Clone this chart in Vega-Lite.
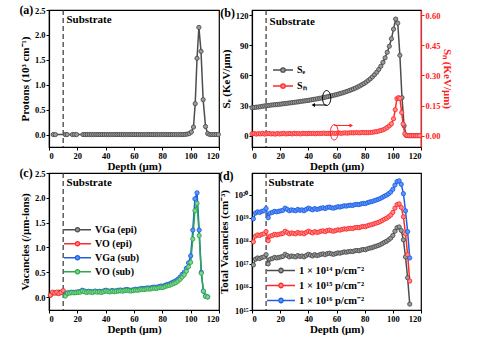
{
"$schema": "https://vega.github.io/schema/vega-lite/v6.json",
"background": "white",
"padding": {"left": 18, "top": 3, "right": 2, "bottom": 2},
"columns": 2,
"spacing": {"row": -10, "column": -5},
"resolve": {"scale": {"fill": "independent", "stroke": "independent"}},
"config": {
 "font": "Liberation Serif",
 "view": {"stroke": "black", "strokeWidth": 1.2},
 "axis": {"grid": false, "labelOverlap": false, "labelFont": "Liberation Serif", "labelFontWeight": "bold", "labelFontSize": 8.5, "labelColor": "black", "titleFont": "Liberation Serif", "titleFontWeight": "bold", "titleFontSize": 11, "titleColor": "black", "domainColor": "black", "tickColor": "black", "tickSize": 3, "labelPadding": 1, "titlePadding": 4, "domainWidth": 1.2},
 "axisX": {"titlePadding": 1},
 "title": {"font": "Liberation Serif", "fontSize": 12, "fontWeight": "bold", "color": "black", "anchor": "start", "frame": "bounds", "offset": -11},
 "legend": {"labelFont": "Liberation Serif", "labelFontWeight": "bold", "labelFontSize": 10, "labelColor": "black", "symbolStrokeWidth": 1.3, "labelOffset": 3, "rowPadding": 2, "clipHeight": 12}
},
"datasets": {
 "boundary": [{"x": 10}],
 "txtA": [{"x": 12.3, "y": 2.3}],
 "txtB": [{"x": 12.5, "y": 113}],
 "txtC": [{"x": 12.4, "y": 2.3}],
 "txtD": [{"x": 11.8, "y": 3.3e20}],
 "ellK": [{"x": 53, "y": 37.6}],
 "arrK": [{"x": 44, "x2": 53, "y": 30.7}],
 "headK": [{"x": 43.5, "y": 30.7}],
 "ellR": [{"x": 58.4, "y": 0.018}],
 "arrR": [{"x": 58.4, "x2": 70, "y": 0.052}],
 "headR": [{"x": 70.5, "y": 0.052}],
 "a": [
  {"x":3,"y":0},{"x":4.5,"y":0},{"x":11.5,"y":0},{"x":12.8,"y":0},{"x":16.5,"y":0},{"x":18,"y":0},{"x":19.5,"y":0},
  {"x":24,"y":0},{"x":25.5,"y":0},{"x":27,"y":0},{"x":28.5,"y":0},{"x":30,"y":0},{"x":31.5,"y":0},{"x":33,"y":0},{"x":34.5,"y":0},{"x":36,"y":0},{"x":37.5,"y":0},{"x":39,"y":0},{"x":40.5,"y":0},{"x":42,"y":0},{"x":43.5,"y":0},{"x":45,"y":0},{"x":46.5,"y":0},{"x":48,"y":0},{"x":49.5,"y":0},{"x":51,"y":0},{"x":52.5,"y":0},{"x":54,"y":0},{"x":55.5,"y":0},{"x":57,"y":0},{"x":58.5,"y":0},{"x":60,"y":0},{"x":61.5,"y":0},{"x":63,"y":0},{"x":64.5,"y":0},{"x":66,"y":0},{"x":67.5,"y":0},{"x":69,"y":0},{"x":70.5,"y":0},{"x":72,"y":0},{"x":73.5,"y":0},{"x":75,"y":0},{"x":76.5,"y":0},{"x":78,"y":0},{"x":79.5,"y":0},{"x":81,"y":0},{"x":82.5,"y":0},{"x":84,"y":0},{"x":85.5,"y":0},{"x":87,"y":0},{"x":88.5,"y":0},{"x":90,"y":0},{"x":91.5,"y":0},{"x":93,"y":0},{"x":94.5,"y":0},
  {"x":96,"y":0.003},{"x":97.5,"y":0.008},{"x":99,"y":0.02},{"x":100.5,"y":0.05},{"x":102,"y":0.15},{"x":103.2,"y":0.62},{"x":104.5,"y":1.53},{"x":105.8,"y":2.15},{"x":107.3,"y":1.67},{"x":108.8,"y":0.7},{"x":110.5,"y":0.16},{"x":112,"y":0.02},{"x":113.5,"y":0},{"x":115,"y":0},{"x":116.5,"y":0},{"x":118,"y":0},{"x":119.5,"y":0}
 ],
 "b": [
  {"x":0,"v":28.0,"s":"Sₑ"},{"x":1.5,"v":28.2,"s":"Sₑ"},{"x":3,"v":28.5,"s":"Sₑ"},{"x":4.5,"v":28.7,"s":"Sₑ"},{"x":6,"v":29.0,"s":"Sₑ"},{"x":7.5,"v":29.4,"s":"Sₑ"},{"x":9,"v":29.8,"s":"Sₑ"},{"x":10.5,"v":30.1,"s":"Sₑ"},{"x":12,"v":30.3,"s":"Sₑ"},{"x":13.5,"v":30.6,"s":"Sₑ"},{"x":15,"v":30.8,"s":"Sₑ"},{"x":16.5,"v":31.0,"s":"Sₑ"},{"x":18,"v":31.2,"s":"Sₑ"},{"x":19.5,"v":31.4,"s":"Sₑ"},{"x":21,"v":31.7,"s":"Sₑ"},{"x":22.5,"v":32.0,"s":"Sₑ"},{"x":24,"v":32.2,"s":"Sₑ"},{"x":25.5,"v":32.5,"s":"Sₑ"},{"x":27,"v":32.8,"s":"Sₑ"},{"x":28.5,"v":33.0,"s":"Sₑ"},{"x":30,"v":33.3,"s":"Sₑ"},{"x":31.5,"v":33.6,"s":"Sₑ"},{"x":33,"v":33.9,"s":"Sₑ"},{"x":34.5,"v":34.2,"s":"Sₑ"},{"x":36,"v":34.5,"s":"Sₑ"},{"x":37.5,"v":34.8,"s":"Sₑ"},{"x":39,"v":35.1,"s":"Sₑ"},{"x":40.5,"v":35.4,"s":"Sₑ"},{"x":42,"v":35.8,"s":"Sₑ"},{"x":43.5,"v":36.2,"s":"Sₑ"},{"x":45,"v":36.5,"s":"Sₑ"},{"x":46.5,"v":36.9,"s":"Sₑ"},{"x":48,"v":37.3,"s":"Sₑ"},{"x":49.5,"v":37.7,"s":"Sₑ"},{"x":51,"v":38.1,"s":"Sₑ"},{"x":52.5,"v":38.6,"s":"Sₑ"},{"x":54,"v":39.0,"s":"Sₑ"},{"x":55.5,"v":39.5,"s":"Sₑ"},{"x":57,"v":40.0,"s":"Sₑ"},{"x":58.5,"v":40.5,"s":"Sₑ"},{"x":60,"v":41.0,"s":"Sₑ"},{"x":61.5,"v":41.6,"s":"Sₑ"},{"x":63,"v":42.2,"s":"Sₑ"},{"x":64.5,"v":42.8,"s":"Sₑ"},{"x":66,"v":43.5,"s":"Sₑ"},{"x":67.5,"v":44.2,"s":"Sₑ"},{"x":69,"v":45.0,"s":"Sₑ"},{"x":70.5,"v":45.8,"s":"Sₑ"},{"x":72,"v":46.6,"s":"Sₑ"},{"x":73.5,"v":47.5,"s":"Sₑ"},{"x":75,"v":48.5,"s":"Sₑ"},{"x":76.5,"v":49.6,"s":"Sₑ"},{"x":78,"v":50.8,"s":"Sₑ"},{"x":79.5,"v":52.0,"s":"Sₑ"},{"x":81,"v":53.4,"s":"Sₑ"},{"x":82.5,"v":55.0,"s":"Sₑ"},{"x":84,"v":56.7,"s":"Sₑ"},{"x":85.5,"v":58.6,"s":"Sₑ"},{"x":87,"v":60.8,"s":"Sₑ"},{"x":88.5,"v":63.2,"s":"Sₑ"},{"x":90,"v":66.0,"s":"Sₑ"},{"x":91.5,"v":69.2,"s":"Sₑ"},{"x":93,"v":73.0,"s":"Sₑ"},{"x":94.5,"v":77.5,"s":"Sₑ"},{"x":96,"v":83.0,"s":"Sₑ"},{"x":97.5,"v":89.0,"s":"Sₑ"},{"x":99,"v":96.5,"s":"Sₑ"},{"x":100.5,"v":106,"s":"Sₑ"},{"x":102,"v":116,"s":"Sₑ"},{"x":103.5,"v":112,"s":"Sₑ"},{"x":105,"v":80,"s":"Sₑ"},{"x":106.5,"v":38,"s":"Sₑ"},{"x":108,"v":10,"s":"Sₑ"},{"x":109.5,"v":0.5,"s":"Sₑ"},{"x":111,"v":0.3,"s":"Sₑ"},{"x":112.5,"v":0.3,"s":"Sₑ"},{"x":114,"v":0.3,"s":"Sₑ"},{"x":115.5,"v":0.3,"s":"Sₑ"},{"x":117,"v":0.3,"s":"Sₑ"},{"x":118.5,"v":0.3,"s":"Sₑ"},
  {"x":0,"v":0.010,"s":"Sₙ"},{"x":1.5,"v":0.012,"s":"Sₙ"},{"x":3,"v":0.009,"s":"Sₙ"},{"x":4.5,"v":0.011,"s":"Sₙ"},{"x":6,"v":0.010,"s":"Sₙ"},{"x":7.5,"v":0.013,"s":"Sₙ"},{"x":9,"v":0.009,"s":"Sₙ"},{"x":10.5,"v":0.011,"s":"Sₙ"},{"x":12,"v":0.012,"s":"Sₙ"},{"x":13.5,"v":0.010,"s":"Sₙ"},{"x":15,"v":0.011,"s":"Sₙ"},{"x":16.5,"v":0.009,"s":"Sₙ"},{"x":18,"v":0.012,"s":"Sₙ"},{"x":19.5,"v":0.010,"s":"Sₙ"},{"x":21,"v":0.011,"s":"Sₙ"},{"x":22.5,"v":0.013,"s":"Sₙ"},{"x":24,"v":0.010,"s":"Sₙ"},{"x":25.5,"v":0.011,"s":"Sₙ"},{"x":27,"v":0.012,"s":"Sₙ"},{"x":28.5,"v":0.010,"s":"Sₙ"},{"x":30,"v":0.013,"s":"Sₙ"},{"x":31.5,"v":0.011,"s":"Sₙ"},{"x":33,"v":0.012,"s":"Sₙ"},{"x":34.5,"v":0.010,"s":"Sₙ"},{"x":36,"v":0.013,"s":"Sₙ"},{"x":37.5,"v":0.012,"s":"Sₙ"},{"x":39,"v":0.011,"s":"Sₙ"},{"x":40.5,"v":0.013,"s":"Sₙ"},{"x":42,"v":0.012,"s":"Sₙ"},{"x":43.5,"v":0.013,"s":"Sₙ"},{"x":45,"v":0.011,"s":"Sₙ"},{"x":46.5,"v":0.013,"s":"Sₙ"},{"x":48,"v":0.012,"s":"Sₙ"},{"x":49.5,"v":0.012,"s":"Sₙ"},{"x":51,"v":0.014,"s":"Sₙ"},{"x":52.5,"v":0.012,"s":"Sₙ"},{"x":54,"v":0.013,"s":"Sₙ"},{"x":55.5,"v":0.012,"s":"Sₙ"},{"x":57,"v":0.014,"s":"Sₙ"},{"x":58.5,"v":0.013,"s":"Sₙ"},{"x":60,"v":0.013,"s":"Sₙ"},{"x":61.5,"v":0.015,"s":"Sₙ"},{"x":63,"v":0.013,"s":"Sₙ"},{"x":64.5,"v":0.014,"s":"Sₙ"},{"x":66,"v":0.015,"s":"Sₙ"},{"x":67.5,"v":0.014,"s":"Sₙ"},{"x":69,"v":0.015,"s":"Sₙ"},{"x":70.5,"v":0.016,"s":"Sₙ"},{"x":72,"v":0.015,"s":"Sₙ"},{"x":73.5,"v":0.016,"s":"Sₙ"},{"x":75,"v":0.016,"s":"Sₙ"},{"x":76.5,"v":0.015,"s":"Sₙ"},{"x":78,"v":0.017,"s":"Sₙ"},{"x":79.5,"v":0.016,"s":"Sₙ"},{"x":81,"v":0.016,"s":"Sₙ"},{"x":82.5,"v":0.016,"s":"Sₙ"},{"x":84,"v":0.017,"s":"Sₙ"},{"x":85.5,"v":0.018,"s":"Sₙ"},{"x":87,"v":0.020,"s":"Sₙ"},{"x":88.5,"v":0.021,"s":"Sₙ"},{"x":90,"v":0.024,"s":"Sₙ"},{"x":91.5,"v":0.027,"s":"Sₙ"},{"x":93,"v":0.030,"s":"Sₙ"},{"x":94.5,"v":0.035,"s":"Sₙ"},{"x":96,"v":0.042,"s":"Sₙ"},{"x":97.5,"v":0.050,"s":"Sₙ"},{"x":99,"v":0.060,"s":"Sₙ"},{"x":100.5,"v":0.085,"s":"Sₙ"},{"x":101.7,"v":0.13,"s":"Sₙ"},{"x":102.9,"v":0.185,"s":"Sₙ"},{"x":104,"v":0.19,"s":"Sₙ"},{"x":105,"v":0.186,"s":"Sₙ"},{"x":106.3,"v":0.116,"s":"Sₙ"},{"x":107.3,"v":0.059,"s":"Sₙ"},{"x":108.5,"v":0.01,"s":"Sₙ"},{"x":110,"v":0.002,"s":"Sₙ"},{"x":111.5,"v":0.001,"s":"Sₙ"},{"x":113,"v":0.001,"s":"Sₙ"},{"x":114.5,"v":0.001,"s":"Sₙ"},{"x":116,"v":0.001,"s":"Sₙ"},{"x":117.5,"v":0.001,"s":"Sₙ"},{"x":119,"v":0.001,"s":"Sₙ"}
 ],
 "c": [
  {"x":1,"v":0.04,"s":"VGa (epi)"},{"x":2.5,"v":0.08,"s":"VGa (epi)"},{"x":4,"v":0.09,"s":"VGa (epi)"},{"x":5.5,"v":0.08,"s":"VGa (epi)"},{"x":7,"v":0.1,"s":"VGa (epi)"},{"x":8.5,"v":0.1,"s":"VGa (epi)"},{"x":10,"v":0.12,"s":"VGa (epi)"},
  {"x":1,"v":0.04,"s":"VO (epi)"},{"x":2.5,"v":0.1,"s":"VO (epi)"},{"x":4,"v":0.08,"s":"VO (epi)"},{"x":5.5,"v":0.1,"s":"VO (epi)"},{"x":7,"v":0.07,"s":"VO (epi)"},{"x":8.5,"v":0.09,"s":"VO (epi)"},{"x":10,"v":0.13,"s":"VO (epi)"},
  {"x":11.5,"v":0.04,"s":"VGa (sub)"},{"x":13,"v":0.085,"s":"VGa (sub)"},{"x":14.5,"v":0.09,"s":"VGa (sub)"},{"x":16,"v":0.1,"s":"VGa (sub)"},{"x":17.5,"v":0.095,"s":"VGa (sub)"},{"x":19,"v":0.1,"s":"VGa (sub)"},{"x":20.5,"v":0.106,"s":"VGa (sub)"},{"x":22,"v":0.111,"s":"VGa (sub)"},{"x":23.5,"v":0.138,"s":"VGa (sub)"},{"x":25,"v":0.122,"s":"VGa (sub)"},{"x":26.5,"v":0.106,"s":"VGa (sub)"},{"x":28,"v":0.117,"s":"VGa (sub)"},{"x":29.5,"v":0.111,"s":"VGa (sub)"},{"x":31,"v":0.106,"s":"VGa (sub)"},{"x":32.5,"v":0.122,"s":"VGa (sub)"},{"x":34,"v":0.111,"s":"VGa (sub)"},{"x":35.5,"v":0.117,"s":"VGa (sub)"},{"x":37,"v":0.106,"s":"VGa (sub)"},{"x":38.5,"v":0.122,"s":"VGa (sub)"},{"x":40,"v":0.138,"s":"VGa (sub)"},{"x":41.5,"v":0.127,"s":"VGa (sub)"},{"x":43,"v":0.117,"s":"VGa (sub)"},{"x":44.5,"v":0.133,"s":"VGa (sub)"},{"x":46,"v":0.122,"s":"VGa (sub)"},{"x":47.5,"v":0.127,"s":"VGa (sub)"},{"x":49,"v":0.138,"s":"VGa (sub)"},{"x":50.5,"v":0.143,"s":"VGa (sub)"},{"x":52,"v":0.133,"s":"VGa (sub)"},{"x":53.5,"v":0.148,"s":"VGa (sub)"},{"x":55,"v":0.154,"s":"VGa (sub)"},{"x":56.5,"v":0.143,"s":"VGa (sub)"},{"x":58,"v":0.138,"s":"VGa (sub)"},{"x":59.5,"v":0.148,"s":"VGa (sub)"},{"x":61,"v":0.159,"s":"VGa (sub)"},{"x":62.5,"v":0.154,"s":"VGa (sub)"},{"x":64,"v":0.164,"s":"VGa (sub)"},{"x":65.5,"v":0.175,"s":"VGa (sub)"},{"x":67,"v":0.17,"s":"VGa (sub)"},{"x":68.5,"v":0.18,"s":"VGa (sub)"},{"x":70,"v":0.186,"s":"VGa (sub)"},{"x":71.5,"v":0.18,"s":"VGa (sub)"},{"x":73,"v":0.196,"s":"VGa (sub)"},{"x":74.5,"v":0.201,"s":"VGa (sub)"},{"x":76,"v":0.196,"s":"VGa (sub)"},{"x":77.5,"v":0.212,"s":"VGa (sub)"},{"x":79,"v":0.223,"s":"VGa (sub)"},{"x":80.5,"v":0.217,"s":"VGa (sub)"},{"x":82,"v":0.239,"s":"VGa (sub)"},{"x":83.5,"v":0.254,"s":"VGa (sub)"},{"x":85,"v":0.265,"s":"VGa (sub)"},{"x":86.5,"v":0.286,"s":"VGa (sub)"},{"x":88,"v":0.307,"s":"VGa (sub)"},{"x":89.5,"v":0.329,"s":"VGa (sub)"},{"x":91,"v":0.36,"s":"VGa (sub)"},{"x":92.5,"v":0.4,"s":"VGa (sub)"},{"x":94,"v":0.456,"s":"VGa (sub)"},{"x":95.5,"v":0.5,"s":"VGa (sub)"},{"x":97,"v":0.58,"s":"VGa (sub)"},{"x":98.5,"v":0.69,"s":"VGa (sub)"},{"x":100,"v":0.83,"s":"VGa (sub)"},{"x":101.5,"v":1.35,"s":"VGa (sub)"},{"x":103,"v":1.98,"s":"VGa (sub)"},{"x":104.5,"v":2.1,"s":"VGa (sub)"},{"x":106,"v":1.35,"s":"VGa (sub)"},{"x":107.5,"v":0.5,"s":"VGa (sub)"},{"x":109,"v":0.12,"s":"VGa (sub)"},{"x":110.5,"v":0.02,"s":"VGa (sub)"},{"x":112,"v":0.004,"s":"VGa (sub)"},
  {"x":11.5,"v":0.02,"s":"VO (sub)"},{"x":13,"v":0.075,"s":"VO (sub)"},{"x":14.5,"v":0.08,"s":"VO (sub)"},{"x":16,"v":0.089,"s":"VO (sub)"},{"x":17.5,"v":0.085,"s":"VO (sub)"},{"x":19,"v":0.089,"s":"VO (sub)"},{"x":20.5,"v":0.094,"s":"VO (sub)"},{"x":22,"v":0.099,"s":"VO (sub)"},{"x":23.5,"v":0.122,"s":"VO (sub)"},{"x":25,"v":0.108,"s":"VO (sub)"},{"x":26.5,"v":0.094,"s":"VO (sub)"},{"x":28,"v":0.103,"s":"VO (sub)"},{"x":29.5,"v":0.099,"s":"VO (sub)"},{"x":31,"v":0.094,"s":"VO (sub)"},{"x":32.5,"v":0.108,"s":"VO (sub)"},{"x":34,"v":0.099,"s":"VO (sub)"},{"x":35.5,"v":0.103,"s":"VO (sub)"},{"x":37,"v":0.094,"s":"VO (sub)"},{"x":38.5,"v":0.108,"s":"VO (sub)"},{"x":40,"v":0.122,"s":"VO (sub)"},{"x":41.5,"v":0.113,"s":"VO (sub)"},{"x":43,"v":0.103,"s":"VO (sub)"},{"x":44.5,"v":0.118,"s":"VO (sub)"},{"x":46,"v":0.108,"s":"VO (sub)"},{"x":47.5,"v":0.113,"s":"VO (sub)"},{"x":49,"v":0.122,"s":"VO (sub)"},{"x":50.5,"v":0.127,"s":"VO (sub)"},{"x":52,"v":0.118,"s":"VO (sub)"},{"x":53.5,"v":0.132,"s":"VO (sub)"},{"x":55,"v":0.136,"s":"VO (sub)"},{"x":56.5,"v":0.127,"s":"VO (sub)"},{"x":58,"v":0.122,"s":"VO (sub)"},{"x":59.5,"v":0.132,"s":"VO (sub)"},{"x":61,"v":0.141,"s":"VO (sub)"},{"x":62.5,"v":0.136,"s":"VO (sub)"},{"x":64,"v":0.146,"s":"VO (sub)"},{"x":65.5,"v":0.155,"s":"VO (sub)"},{"x":67,"v":0.15,"s":"VO (sub)"},{"x":68.5,"v":0.16,"s":"VO (sub)"},{"x":70,"v":0.165,"s":"VO (sub)"},{"x":71.5,"v":0.16,"s":"VO (sub)"},{"x":73,"v":0.174,"s":"VO (sub)"},{"x":74.5,"v":0.179,"s":"VO (sub)"},{"x":76,"v":0.174,"s":"VO (sub)"},{"x":77.5,"v":0.188,"s":"VO (sub)"},{"x":79,"v":0.197,"s":"VO (sub)"},{"x":80.5,"v":0.193,"s":"VO (sub)"},{"x":82,"v":0.212,"s":"VO (sub)"},{"x":83.5,"v":0.226,"s":"VO (sub)"},{"x":85,"v":0.235,"s":"VO (sub)"},{"x":86.5,"v":0.254,"s":"VO (sub)"},{"x":88,"v":0.273,"s":"VO (sub)"},{"x":89.5,"v":0.291,"s":"VO (sub)"},{"x":91,"v":0.32,"s":"VO (sub)"},{"x":92.5,"v":0.357,"s":"VO (sub)"},{"x":94,"v":0.404,"s":"VO (sub)"},{"x":95.5,"v":0.45,"s":"VO (sub)"},{"x":97,"v":0.52,"s":"VO (sub)"},{"x":98.5,"v":0.61,"s":"VO (sub)"},{"x":100,"v":0.7,"s":"VO (sub)"},{"x":101.5,"v":1.17,"s":"VO (sub)"},{"x":103,"v":1.74,"s":"VO (sub)"},{"x":104.5,"v":1.89,"s":"VO (sub)"},{"x":106,"v":1.24,"s":"VO (sub)"},{"x":107.5,"v":0.48,"s":"VO (sub)"},{"x":109,"v":0.12,"s":"VO (sub)"},{"x":110.5,"v":0.015,"s":"VO (sub)"},{"x":112,"v":0.003,"s":"VO (sub)"}
 ],
 "d": [
  {"x":1,"v":0.9e17,"s":"1 × 10¹⁴ p/cm⁻²"},{"x":2.5,"v":1.6e17,"s":"1 × 10¹⁴ p/cm⁻²"},{"x":4,"v":1.8e17,"s":"1 × 10¹⁴ p/cm⁻²"},{"x":5.5,"v":1.7e17,"s":"1 × 10¹⁴ p/cm⁻²"},{"x":7,"v":1.9e17,"s":"1 × 10¹⁴ p/cm⁻²"},{"x":8.5,"v":2.0e17,"s":"1 × 10¹⁴ p/cm⁻²"},{"x":10,"v":2.5e17,"s":"1 × 10¹⁴ p/cm⁻²"},{"x":11.5,"v":1.0e17,"s":"1 × 10¹⁴ p/cm⁻²"},{"x":13,"v":1.6e17,"s":"1 × 10¹⁴ p/cm⁻²"},{"x":14.5,"v":1.7e17,"s":"1 × 10¹⁴ p/cm⁻²"},{"x":16,"v":1.9e17,"s":"1 × 10¹⁴ p/cm⁻²"},{"x":17.5,"v":1.8e17,"s":"1 × 10¹⁴ p/cm⁻²"},{"x":19,"v":1.9e17,"s":"1 × 10¹⁴ p/cm⁻²"},{"x":20.5,"v":2.0e17,"s":"1 × 10¹⁴ p/cm⁻²"},{"x":22,"v":2.1e17,"s":"1 × 10¹⁴ p/cm⁻²"},{"x":23.5,"v":2.6e17,"s":"1 × 10¹⁴ p/cm⁻²"},{"x":25,"v":2.3e17,"s":"1 × 10¹⁴ p/cm⁻²"},{"x":26.5,"v":2.0e17,"s":"1 × 10¹⁴ p/cm⁻²"},{"x":28,"v":2.2e17,"s":"1 × 10¹⁴ p/cm⁻²"},{"x":29.5,"v":2.1e17,"s":"1 × 10¹⁴ p/cm⁻²"},{"x":31,"v":2.0e17,"s":"1 × 10¹⁴ p/cm⁻²"},{"x":32.5,"v":2.3e17,"s":"1 × 10¹⁴ p/cm⁻²"},{"x":34,"v":2.1e17,"s":"1 × 10¹⁴ p/cm⁻²"},{"x":35.5,"v":2.2e17,"s":"1 × 10¹⁴ p/cm⁻²"},{"x":37,"v":2.0e17,"s":"1 × 10¹⁴ p/cm⁻²"},{"x":38.5,"v":2.3e17,"s":"1 × 10¹⁴ p/cm⁻²"},{"x":40,"v":2.6e17,"s":"1 × 10¹⁴ p/cm⁻²"},{"x":41.5,"v":2.4e17,"s":"1 × 10¹⁴ p/cm⁻²"},{"x":43,"v":2.2e17,"s":"1 × 10¹⁴ p/cm⁻²"},{"x":44.5,"v":2.5e17,"s":"1 × 10¹⁴ p/cm⁻²"},{"x":46,"v":2.3e17,"s":"1 × 10¹⁴ p/cm⁻²"},{"x":47.5,"v":2.4e17,"s":"1 × 10¹⁴ p/cm⁻²"},{"x":49,"v":2.6e17,"s":"1 × 10¹⁴ p/cm⁻²"},{"x":50.5,"v":2.7e17,"s":"1 × 10¹⁴ p/cm⁻²"},{"x":52,"v":2.5e17,"s":"1 × 10¹⁴ p/cm⁻²"},{"x":53.5,"v":2.8e17,"s":"1 × 10¹⁴ p/cm⁻²"},{"x":55,"v":2.9e17,"s":"1 × 10¹⁴ p/cm⁻²"},{"x":56.5,"v":2.7e17,"s":"1 × 10¹⁴ p/cm⁻²"},{"x":58,"v":2.6e17,"s":"1 × 10¹⁴ p/cm⁻²"},{"x":59.5,"v":2.8e17,"s":"1 × 10¹⁴ p/cm⁻²"},{"x":61,"v":3.0e17,"s":"1 × 10¹⁴ p/cm⁻²"},{"x":62.5,"v":2.9e17,"s":"1 × 10¹⁴ p/cm⁻²"},{"x":64,"v":3.1e17,"s":"1 × 10¹⁴ p/cm⁻²"},{"x":65.5,"v":3.3e17,"s":"1 × 10¹⁴ p/cm⁻²"},{"x":67,"v":3.2e17,"s":"1 × 10¹⁴ p/cm⁻²"},{"x":68.5,"v":3.4e17,"s":"1 × 10¹⁴ p/cm⁻²"},{"x":70,"v":3.5e17,"s":"1 × 10¹⁴ p/cm⁻²"},{"x":71.5,"v":3.4e17,"s":"1 × 10¹⁴ p/cm⁻²"},{"x":73,"v":3.7e17,"s":"1 × 10¹⁴ p/cm⁻²"},{"x":74.5,"v":3.8e17,"s":"1 × 10¹⁴ p/cm⁻²"},{"x":76,"v":3.7e17,"s":"1 × 10¹⁴ p/cm⁻²"},{"x":77.5,"v":4.0e17,"s":"1 × 10¹⁴ p/cm⁻²"},{"x":79,"v":4.2e17,"s":"1 × 10¹⁴ p/cm⁻²"},{"x":80.5,"v":4.1e17,"s":"1 × 10¹⁴ p/cm⁻²"},{"x":82,"v":4.5e17,"s":"1 × 10¹⁴ p/cm⁻²"},{"x":83.5,"v":4.8e17,"s":"1 × 10¹⁴ p/cm⁻²"},{"x":85,"v":5.0e17,"s":"1 × 10¹⁴ p/cm⁻²"},{"x":86.5,"v":5.4e17,"s":"1 × 10¹⁴ p/cm⁻²"},{"x":88,"v":5.8e17,"s":"1 × 10¹⁴ p/cm⁻²"},{"x":89.5,"v":6.2e17,"s":"1 × 10¹⁴ p/cm⁻²"},{"x":91,"v":6.8e17,"s":"1 × 10¹⁴ p/cm⁻²"},{"x":92.5,"v":7.6e17,"s":"1 × 10¹⁴ p/cm⁻²"},{"x":94,"v":8.6e17,"s":"1 × 10¹⁴ p/cm⁻²"},{"x":95.5,"v":9.5e17,"s":"1 × 10¹⁴ p/cm⁻²"},{"x":97,"v":1.1e18,"s":"1 × 10¹⁴ p/cm⁻²"},{"x":98.5,"v":1.3e18,"s":"1 × 10¹⁴ p/cm⁻²"},{"x":100,"v":1.7e18,"s":"1 × 10¹⁴ p/cm⁻²"},{"x":101.5,"v":2.6e18,"s":"1 × 10¹⁴ p/cm⁻²"},{"x":103,"v":3.7e18,"s":"1 × 10¹⁴ p/cm⁻²"},{"x":104.5,"v":4.0e18,"s":"1 × 10¹⁴ p/cm⁻²"},{"x":106,"v":2.8e18,"s":"1 × 10¹⁴ p/cm⁻²"},{"x":107.5,"v":1.1e18,"s":"1 × 10¹⁴ p/cm⁻²"},{"x":109,"v":2.0e17,"s":"1 × 10¹⁴ p/cm⁻²"},{"x":110.5,"v":2.5e16,"s":"1 × 10¹⁴ p/cm⁻²"},{"x":112,"v":1.8e15,"s":"1 × 10¹⁴ p/cm⁻²"},
  {"x":1,"v":0.9e18,"s":"1 × 10¹⁵ p/cm⁻²"},{"x":2.5,"v":1.6e18,"s":"1 × 10¹⁵ p/cm⁻²"},{"x":4,"v":1.8e18,"s":"1 × 10¹⁵ p/cm⁻²"},{"x":5.5,"v":1.7e18,"s":"1 × 10¹⁵ p/cm⁻²"},{"x":7,"v":1.9e18,"s":"1 × 10¹⁵ p/cm⁻²"},{"x":8.5,"v":2.0e18,"s":"1 × 10¹⁵ p/cm⁻²"},{"x":10,"v":2.5e18,"s":"1 × 10¹⁵ p/cm⁻²"},{"x":11.5,"v":1.0e18,"s":"1 × 10¹⁵ p/cm⁻²"},{"x":13,"v":1.6e18,"s":"1 × 10¹⁵ p/cm⁻²"},{"x":14.5,"v":1.7e18,"s":"1 × 10¹⁵ p/cm⁻²"},{"x":16,"v":1.9e18,"s":"1 × 10¹⁵ p/cm⁻²"},{"x":17.5,"v":1.8e18,"s":"1 × 10¹⁵ p/cm⁻²"},{"x":19,"v":1.9e18,"s":"1 × 10¹⁵ p/cm⁻²"},{"x":20.5,"v":2.0e18,"s":"1 × 10¹⁵ p/cm⁻²"},{"x":22,"v":2.1e18,"s":"1 × 10¹⁵ p/cm⁻²"},{"x":23.5,"v":2.6e18,"s":"1 × 10¹⁵ p/cm⁻²"},{"x":25,"v":2.3e18,"s":"1 × 10¹⁵ p/cm⁻²"},{"x":26.5,"v":2.0e18,"s":"1 × 10¹⁵ p/cm⁻²"},{"x":28,"v":2.2e18,"s":"1 × 10¹⁵ p/cm⁻²"},{"x":29.5,"v":2.1e18,"s":"1 × 10¹⁵ p/cm⁻²"},{"x":31,"v":2.0e18,"s":"1 × 10¹⁵ p/cm⁻²"},{"x":32.5,"v":2.3e18,"s":"1 × 10¹⁵ p/cm⁻²"},{"x":34,"v":2.1e18,"s":"1 × 10¹⁵ p/cm⁻²"},{"x":35.5,"v":2.2e18,"s":"1 × 10¹⁵ p/cm⁻²"},{"x":37,"v":2.0e18,"s":"1 × 10¹⁵ p/cm⁻²"},{"x":38.5,"v":2.3e18,"s":"1 × 10¹⁵ p/cm⁻²"},{"x":40,"v":2.6e18,"s":"1 × 10¹⁵ p/cm⁻²"},{"x":41.5,"v":2.4e18,"s":"1 × 10¹⁵ p/cm⁻²"},{"x":43,"v":2.2e18,"s":"1 × 10¹⁵ p/cm⁻²"},{"x":44.5,"v":2.5e18,"s":"1 × 10¹⁵ p/cm⁻²"},{"x":46,"v":2.3e18,"s":"1 × 10¹⁵ p/cm⁻²"},{"x":47.5,"v":2.4e18,"s":"1 × 10¹⁵ p/cm⁻²"},{"x":49,"v":2.6e18,"s":"1 × 10¹⁵ p/cm⁻²"},{"x":50.5,"v":2.7e18,"s":"1 × 10¹⁵ p/cm⁻²"},{"x":52,"v":2.5e18,"s":"1 × 10¹⁵ p/cm⁻²"},{"x":53.5,"v":2.8e18,"s":"1 × 10¹⁵ p/cm⁻²"},{"x":55,"v":2.9e18,"s":"1 × 10¹⁵ p/cm⁻²"},{"x":56.5,"v":2.7e18,"s":"1 × 10¹⁵ p/cm⁻²"},{"x":58,"v":2.6e18,"s":"1 × 10¹⁵ p/cm⁻²"},{"x":59.5,"v":2.8e18,"s":"1 × 10¹⁵ p/cm⁻²"},{"x":61,"v":3.0e18,"s":"1 × 10¹⁵ p/cm⁻²"},{"x":62.5,"v":2.9e18,"s":"1 × 10¹⁵ p/cm⁻²"},{"x":64,"v":3.1e18,"s":"1 × 10¹⁵ p/cm⁻²"},{"x":65.5,"v":3.3e18,"s":"1 × 10¹⁵ p/cm⁻²"},{"x":67,"v":3.2e18,"s":"1 × 10¹⁵ p/cm⁻²"},{"x":68.5,"v":3.4e18,"s":"1 × 10¹⁵ p/cm⁻²"},{"x":70,"v":3.5e18,"s":"1 × 10¹⁵ p/cm⁻²"},{"x":71.5,"v":3.4e18,"s":"1 × 10¹⁵ p/cm⁻²"},{"x":73,"v":3.7e18,"s":"1 × 10¹⁵ p/cm⁻²"},{"x":74.5,"v":3.8e18,"s":"1 × 10¹⁵ p/cm⁻²"},{"x":76,"v":3.7e18,"s":"1 × 10¹⁵ p/cm⁻²"},{"x":77.5,"v":4.0e18,"s":"1 × 10¹⁵ p/cm⁻²"},{"x":79,"v":4.2e18,"s":"1 × 10¹⁵ p/cm⁻²"},{"x":80.5,"v":4.1e18,"s":"1 × 10¹⁵ p/cm⁻²"},{"x":82,"v":4.5e18,"s":"1 × 10¹⁵ p/cm⁻²"},{"x":83.5,"v":4.8e18,"s":"1 × 10¹⁵ p/cm⁻²"},{"x":85,"v":5.0e18,"s":"1 × 10¹⁵ p/cm⁻²"},{"x":86.5,"v":5.4e18,"s":"1 × 10¹⁵ p/cm⁻²"},{"x":88,"v":5.8e18,"s":"1 × 10¹⁵ p/cm⁻²"},{"x":89.5,"v":6.2e18,"s":"1 × 10¹⁵ p/cm⁻²"},{"x":91,"v":6.8e18,"s":"1 × 10¹⁵ p/cm⁻²"},{"x":92.5,"v":7.6e18,"s":"1 × 10¹⁵ p/cm⁻²"},{"x":94,"v":8.6e18,"s":"1 × 10¹⁵ p/cm⁻²"},{"x":95.5,"v":9.5e18,"s":"1 × 10¹⁵ p/cm⁻²"},{"x":97,"v":1.1e19,"s":"1 × 10¹⁵ p/cm⁻²"},{"x":98.5,"v":1.3e19,"s":"1 × 10¹⁵ p/cm⁻²"},{"x":100,"v":1.7e19,"s":"1 × 10¹⁵ p/cm⁻²"},{"x":101.5,"v":2.6e19,"s":"1 × 10¹⁵ p/cm⁻²"},{"x":103,"v":3.7e19,"s":"1 × 10¹⁵ p/cm⁻²"},{"x":104.5,"v":4.0e19,"s":"1 × 10¹⁵ p/cm⁻²"},{"x":106,"v":2.8e19,"s":"1 × 10¹⁵ p/cm⁻²"},{"x":107.5,"v":1.1e19,"s":"1 × 10¹⁵ p/cm⁻²"},{"x":109,"v":2.0e18,"s":"1 × 10¹⁵ p/cm⁻²"},{"x":110.5,"v":2.5e17,"s":"1 × 10¹⁵ p/cm⁻²"},{"x":112,"v":1.8e16,"s":"1 × 10¹⁵ p/cm⁻²"},
  {"x":1,"v":0.9e19,"s":"1 × 10¹⁶ p/cm⁻²"},{"x":2.5,"v":1.6e19,"s":"1 × 10¹⁶ p/cm⁻²"},{"x":4,"v":1.8e19,"s":"1 × 10¹⁶ p/cm⁻²"},{"x":5.5,"v":1.7e19,"s":"1 × 10¹⁶ p/cm⁻²"},{"x":7,"v":1.9e19,"s":"1 × 10¹⁶ p/cm⁻²"},{"x":8.5,"v":2.0e19,"s":"1 × 10¹⁶ p/cm⁻²"},{"x":10,"v":2.5e19,"s":"1 × 10¹⁶ p/cm⁻²"},{"x":11.5,"v":1.0e19,"s":"1 × 10¹⁶ p/cm⁻²"},{"x":13,"v":1.6e19,"s":"1 × 10¹⁶ p/cm⁻²"},{"x":14.5,"v":1.7e19,"s":"1 × 10¹⁶ p/cm⁻²"},{"x":16,"v":1.9e19,"s":"1 × 10¹⁶ p/cm⁻²"},{"x":17.5,"v":1.8e19,"s":"1 × 10¹⁶ p/cm⁻²"},{"x":19,"v":1.9e19,"s":"1 × 10¹⁶ p/cm⁻²"},{"x":20.5,"v":2.0e19,"s":"1 × 10¹⁶ p/cm⁻²"},{"x":22,"v":2.1e19,"s":"1 × 10¹⁶ p/cm⁻²"},{"x":23.5,"v":2.6e19,"s":"1 × 10¹⁶ p/cm⁻²"},{"x":25,"v":2.3e19,"s":"1 × 10¹⁶ p/cm⁻²"},{"x":26.5,"v":2.0e19,"s":"1 × 10¹⁶ p/cm⁻²"},{"x":28,"v":2.2e19,"s":"1 × 10¹⁶ p/cm⁻²"},{"x":29.5,"v":2.1e19,"s":"1 × 10¹⁶ p/cm⁻²"},{"x":31,"v":2.0e19,"s":"1 × 10¹⁶ p/cm⁻²"},{"x":32.5,"v":2.3e19,"s":"1 × 10¹⁶ p/cm⁻²"},{"x":34,"v":2.1e19,"s":"1 × 10¹⁶ p/cm⁻²"},{"x":35.5,"v":2.2e19,"s":"1 × 10¹⁶ p/cm⁻²"},{"x":37,"v":2.0e19,"s":"1 × 10¹⁶ p/cm⁻²"},{"x":38.5,"v":2.3e19,"s":"1 × 10¹⁶ p/cm⁻²"},{"x":40,"v":2.6e19,"s":"1 × 10¹⁶ p/cm⁻²"},{"x":41.5,"v":2.4e19,"s":"1 × 10¹⁶ p/cm⁻²"},{"x":43,"v":2.2e19,"s":"1 × 10¹⁶ p/cm⁻²"},{"x":44.5,"v":2.5e19,"s":"1 × 10¹⁶ p/cm⁻²"},{"x":46,"v":2.3e19,"s":"1 × 10¹⁶ p/cm⁻²"},{"x":47.5,"v":2.4e19,"s":"1 × 10¹⁶ p/cm⁻²"},{"x":49,"v":2.6e19,"s":"1 × 10¹⁶ p/cm⁻²"},{"x":50.5,"v":2.7e19,"s":"1 × 10¹⁶ p/cm⁻²"},{"x":52,"v":2.5e19,"s":"1 × 10¹⁶ p/cm⁻²"},{"x":53.5,"v":2.8e19,"s":"1 × 10¹⁶ p/cm⁻²"},{"x":55,"v":2.9e19,"s":"1 × 10¹⁶ p/cm⁻²"},{"x":56.5,"v":2.7e19,"s":"1 × 10¹⁶ p/cm⁻²"},{"x":58,"v":2.6e19,"s":"1 × 10¹⁶ p/cm⁻²"},{"x":59.5,"v":2.8e19,"s":"1 × 10¹⁶ p/cm⁻²"},{"x":61,"v":3.0e19,"s":"1 × 10¹⁶ p/cm⁻²"},{"x":62.5,"v":2.9e19,"s":"1 × 10¹⁶ p/cm⁻²"},{"x":64,"v":3.1e19,"s":"1 × 10¹⁶ p/cm⁻²"},{"x":65.5,"v":3.3e19,"s":"1 × 10¹⁶ p/cm⁻²"},{"x":67,"v":3.2e19,"s":"1 × 10¹⁶ p/cm⁻²"},{"x":68.5,"v":3.4e19,"s":"1 × 10¹⁶ p/cm⁻²"},{"x":70,"v":3.5e19,"s":"1 × 10¹⁶ p/cm⁻²"},{"x":71.5,"v":3.4e19,"s":"1 × 10¹⁶ p/cm⁻²"},{"x":73,"v":3.7e19,"s":"1 × 10¹⁶ p/cm⁻²"},{"x":74.5,"v":3.8e19,"s":"1 × 10¹⁶ p/cm⁻²"},{"x":76,"v":3.7e19,"s":"1 × 10¹⁶ p/cm⁻²"},{"x":77.5,"v":4.0e19,"s":"1 × 10¹⁶ p/cm⁻²"},{"x":79,"v":4.2e19,"s":"1 × 10¹⁶ p/cm⁻²"},{"x":80.5,"v":4.1e19,"s":"1 × 10¹⁶ p/cm⁻²"},{"x":82,"v":4.5e19,"s":"1 × 10¹⁶ p/cm⁻²"},{"x":83.5,"v":4.8e19,"s":"1 × 10¹⁶ p/cm⁻²"},{"x":85,"v":5.0e19,"s":"1 × 10¹⁶ p/cm⁻²"},{"x":86.5,"v":5.4e19,"s":"1 × 10¹⁶ p/cm⁻²"},{"x":88,"v":5.8e19,"s":"1 × 10¹⁶ p/cm⁻²"},{"x":89.5,"v":6.2e19,"s":"1 × 10¹⁶ p/cm⁻²"},{"x":91,"v":6.8e19,"s":"1 × 10¹⁶ p/cm⁻²"},{"x":92.5,"v":7.6e19,"s":"1 × 10¹⁶ p/cm⁻²"},{"x":94,"v":8.6e19,"s":"1 × 10¹⁶ p/cm⁻²"},{"x":95.5,"v":9.5e19,"s":"1 × 10¹⁶ p/cm⁻²"},{"x":97,"v":1.1e20,"s":"1 × 10¹⁶ p/cm⁻²"},{"x":98.5,"v":1.3e20,"s":"1 × 10¹⁶ p/cm⁻²"},{"x":100,"v":1.7e20,"s":"1 × 10¹⁶ p/cm⁻²"},{"x":101.5,"v":2.6e20,"s":"1 × 10¹⁶ p/cm⁻²"},{"x":103,"v":3.7e20,"s":"1 × 10¹⁶ p/cm⁻²"},{"x":104.5,"v":4.0e20,"s":"1 × 10¹⁶ p/cm⁻²"},{"x":106,"v":2.8e20,"s":"1 × 10¹⁶ p/cm⁻²"},{"x":107.5,"v":1.1e20,"s":"1 × 10¹⁶ p/cm⁻²"},{"x":109,"v":2.0e19,"s":"1 × 10¹⁶ p/cm⁻²"},{"x":110.5,"v":2.5e18,"s":"1 × 10¹⁶ p/cm⁻²"},{"x":112,"v":1.8e17,"s":"1 × 10¹⁶ p/cm⁻²"}
 ]
},
"concat": [
 {
  "width": 170, "height": 137,
  "title": {"text": "(a)"},
  "layer": [
   {"data": {"name": "boundary"}, "mark": {"type": "rule", "strokeDash": [5, 3], "color": "#333333", "strokeWidth": 1.2}, "encoding": {"x": {"field": "x", "type": "quantitative"}}},
   {"data": {"name": "txtA"}, "mark": {"type": "text", "text": "Substrate", "align": "left", "baseline": "middle", "fontSize": 11, "fontWeight": "bold", "font": "Liberation Serif", "color": "black"}, "encoding": {"x": {"field": "x", "type": "quantitative"}, "y": {"field": "y", "type": "quantitative"}}},
   {"data": {"name": "a"}, "mark": {"type": "line", "color": "#4d4d4d", "strokeWidth": 1.5},
    "encoding": {
     "x": {"field": "x", "type": "quantitative", "scale": {"domain": [0, 120], "nice": false}, "axis": {"title": "Depth (μm)", "values": [0, 20, 40, 60, 80, 100, 120], "tickCount": 12, "labelOverlap": false}},
     "y": {"field": "y", "type": "quantitative", "scale": {"domain": [-0.25, 2.5], "nice": false}, "axis": {"title": "Protons (10³ cm⁻¹)", "values": [0, 0.5, 1, 1.5, 2, 2.5], "tickCount": 12, "format": ".1f", "labelOverlap": false}}
    }},
   {"data": {"name": "a"}, "mark": {"type": "point", "filled": true, "fill": "#9a9a9a", "stroke": "#4d4d4d", "strokeWidth": 0.9, "size": 18, "opacity": 1},
    "encoding": {"x": {"field": "x", "type": "quantitative"}, "y": {"field": "y", "type": "quantitative"}}}
  ]
 },
 {
  "width": 169, "height": 137,
  "title": {"text": "(b)"},
  "resolve": {"scale": {"y": "independent"}},
  "layer": [
   {"layer": [
    {"data": {"name": "boundary"}, "mark": {"type": "rule", "strokeDash": [5, 3], "color": "#333333", "strokeWidth": 1.2}, "encoding": {"x": {"field": "x", "type": "quantitative"}}},
    {"data": {"name": "txtB"}, "mark": {"type": "text", "text": "Substrate", "align": "left", "baseline": "middle", "fontSize": 11, "fontWeight": "bold", "font": "Liberation Serif", "color": "black"}, "encoding": {"x": {"field": "x", "type": "quantitative"}, "y": {"field": "y", "type": "quantitative"}}},
    {"data": {"name": "b"}, "transform": [{"filter": "datum.s == 'Sₑ'"}], "mark": {"type": "line", "strokeWidth": 1.5},
     "encoding": {
      "x": {"field": "x", "type": "quantitative", "scale": {"domain": [0, 120], "nice": false}, "axis": {"title": "Depth (μm)", "values": [0, 20, 40, 60, 80, 100, 120], "tickCount": 12, "labelOverlap": false}},
      "y": {"field": "v", "type": "quantitative", "scale": {"domain": [-11, 125], "nice": false}, "axis": {"title": "Sₑ (KeV/μm)", "values": [0, 30, 60, 90, 120], "tickCount": 12, "labelOverlap": false}},
      "stroke": {"field": "s", "type": "nominal", "scale": {"domain": ["Sₑ", "Sₙ"], "range": ["#4d4d4d", "#ff2a2a"]}, "legend": {"title": null, "orient": "none", "legendX": 20, "legendY": 53, "symbolSize": 400, "symbolType": "M -1 0 L -0.22 0 M 0.22 0 L 1 0 M 0.22 0 A 0.22 0.22 0 1 1 -0.22 0 A 0.22 0.22 0 1 1 0.22 0 Z", "clipHeight": 14}}
     }},
    {"data": {"name": "b"}, "transform": [{"filter": "datum.s == 'Sₑ'"}], "mark": {"type": "point", "filled": true, "strokeWidth": 0.9, "size": 18, "opacity": 1},
     "encoding": {
      "x": {"field": "x", "type": "quantitative"},
      "y": {"field": "v", "type": "quantitative"},
      "stroke": {"field": "s", "type": "nominal", "scale": {"domain": ["Sₑ", "Sₙ"], "range": ["#4d4d4d", "#ff2a2a"]}, "legend": {"title": null, "orient": "none", "legendX": 20, "legendY": 53, "symbolSize": 400, "symbolType": "M -1 0 L -0.22 0 M 0.22 0 L 1 0 M 0.22 0 A 0.22 0.22 0 1 1 -0.22 0 A 0.22 0.22 0 1 1 0.22 0 Z", "clipHeight": 14}},
      "fill": {"field": "s", "type": "nominal", "scale": {"domain": ["Sₑ", "Sₙ"], "range": ["#9a9a9a", "#ff8a8a"]}, "legend": {"title": null, "orient": "none", "legendX": 20, "legendY": 53, "symbolSize": 400, "symbolType": "M -1 0 L -0.22 0 M 0.22 0 L 1 0 M 0.22 0 A 0.22 0.22 0 1 1 -0.22 0 A 0.22 0.22 0 1 1 0.22 0 Z", "clipHeight": 14}}
     }},
    {"data": {"name": "ellK"}, "mark": {"type": "point", "shape": "M 0 -1 A 0.55 1 0 1 1 0 1 A 0.55 1 0 1 1 0 -1 Z", "filled": false, "stroke": "black", "strokeWidth": 1, "size": 225, "opacity": 1}, "encoding": {"x": {"field": "x", "type": "quantitative"}, "y": {"field": "y", "type": "quantitative"}}},
    {"data": {"name": "arrK"}, "mark": {"type": "rule", "color": "black", "strokeWidth": 1}, "encoding": {"x": {"field": "x", "type": "quantitative"}, "x2": {"field": "x2"}, "y": {"field": "y", "type": "quantitative"}}},
    {"data": {"name": "headK"}, "mark": {"type": "point", "shape": "triangle-left", "filled": true, "color": "black", "size": 16, "opacity": 1}, "encoding": {"x": {"field": "x", "type": "quantitative"}, "y": {"field": "y", "type": "quantitative"}}}
   ]},
   {"layer": [
    {"data": {"name": "b"}, "transform": [{"filter": "datum.s == 'Sₙ'"}], "mark": {"type": "line", "strokeWidth": 1.5},
     "encoding": {
      "x": {"field": "x", "type": "quantitative"},
      "y": {"field": "v", "type": "quantitative", "scale": {"domain": [-0.055, 0.625], "nice": false}, "axis": {"orient": "right", "title": "Sₙ (KeV/μm)", "values": [0, 0.15, 0.3, 0.45, 0.6], "tickCount": 12, "format": ".2f", "labelOverlap": false, "titlePadding": 2, "labelColor": "#ff2020", "titleColor": "#ff2020", "domainColor": "#ff2020", "tickColor": "#ff2020"}},
      "stroke": {"field": "s", "type": "nominal", "scale": {"domain": ["Sₑ", "Sₙ"], "range": ["#4d4d4d", "#ff2a2a"]}, "legend": {"title": null, "orient": "none", "legendX": 20, "legendY": 53, "symbolSize": 400, "symbolType": "M -1 0 L -0.22 0 M 0.22 0 L 1 0 M 0.22 0 A 0.22 0.22 0 1 1 -0.22 0 A 0.22 0.22 0 1 1 0.22 0 Z", "clipHeight": 14}}
     }},
    {"data": {"name": "b"}, "transform": [{"filter": "datum.s == 'Sₙ'"}], "mark": {"type": "point", "filled": true, "strokeWidth": 0.9, "size": 18, "opacity": 1},
     "encoding": {
      "x": {"field": "x", "type": "quantitative"},
      "y": {"field": "v", "type": "quantitative"},
      "stroke": {"field": "s", "type": "nominal", "scale": {"domain": ["Sₑ", "Sₙ"], "range": ["#4d4d4d", "#ff2a2a"]}, "legend": {"title": null, "orient": "none", "legendX": 20, "legendY": 53, "symbolSize": 400, "symbolType": "M -1 0 L -0.22 0 M 0.22 0 L 1 0 M 0.22 0 A 0.22 0.22 0 1 1 -0.22 0 A 0.22 0.22 0 1 1 0.22 0 Z", "clipHeight": 14}},
      "fill": {"field": "s", "type": "nominal", "scale": {"domain": ["Sₑ", "Sₙ"], "range": ["#9a9a9a", "#ff8a8a"]}, "legend": {"title": null, "orient": "none", "legendX": 20, "legendY": 53, "symbolSize": 400, "symbolType": "M -1 0 L -0.22 0 M 0.22 0 L 1 0 M 0.22 0 A 0.22 0.22 0 1 1 -0.22 0 A 0.22 0.22 0 1 1 0.22 0 Z", "clipHeight": 14}}
     }},
    {"data": {"name": "ellR"}, "mark": {"type": "point", "shape": "M 0 -1 A 0.5 1 0 1 1 0 1 A 0.5 1 0 1 1 0 -1 Z", "filled": false, "stroke": "#ff2020", "strokeWidth": 1, "size": 240, "opacity": 1}, "encoding": {"x": {"field": "x", "type": "quantitative"}, "y": {"field": "y", "type": "quantitative"}}},
    {"data": {"name": "arrR"}, "mark": {"type": "rule", "color": "#ff2020", "strokeWidth": 1}, "encoding": {"x": {"field": "x", "type": "quantitative"}, "x2": {"field": "x2"}, "y": {"field": "y", "type": "quantitative"}}},
    {"data": {"name": "headR"}, "mark": {"type": "point", "shape": "triangle-right", "filled": true, "color": "#ff2020", "size": 16, "opacity": 1}, "encoding": {"x": {"field": "x", "type": "quantitative"}, "y": {"field": "y", "type": "quantitative"}}}
   ]}
  ]
 },
 {
  "width": 170, "height": 137,
  "title": {"text": "(c)"},
  "layer": [
   {"data": {"name": "boundary"}, "mark": {"type": "rule", "strokeDash": [5, 3], "color": "#333333", "strokeWidth": 1.2}, "encoding": {"x": {"field": "x", "type": "quantitative"}}},
   {"data": {"name": "txtC"}, "mark": {"type": "text", "text": "Substrate", "align": "left", "baseline": "middle", "fontSize": 11, "fontWeight": "bold", "font": "Liberation Serif", "color": "black"}, "encoding": {"x": {"field": "x", "type": "quantitative"}, "y": {"field": "y", "type": "quantitative"}}},
   {"data": {"name": "c"}, "mark": {"type": "line", "strokeWidth": 1.5},
    "encoding": {
     "x": {"field": "x", "type": "quantitative", "scale": {"domain": [0, 120], "nice": false}, "axis": {"title": "Depth (μm)", "values": [0, 20, 40, 60, 80, 100, 120], "tickCount": 12, "labelOverlap": false}},
     "y": {"field": "v", "type": "quantitative", "scale": {"domain": [-0.26, 2.5], "nice": false}, "axis": {"title": "Vacancies (/μm-ions)", "values": [0, 0.5, 1, 1.5, 2, 2.5], "tickCount": 12, "format": ".1f", "labelOverlap": false}},
     "stroke": {"field": "s", "type": "nominal", "scale": {"domain": ["VGa (epi)", "VO (epi)", "VGa (sub)", "VO (sub)"], "range": ["#4d4d4d", "#ff2a2a", "#1f5fe0", "#2da84a"]}, "legend": {"title": null, "orient": "none", "legendX": 14, "legendY": 51, "symbolSize": 729, "symbolType": "M -1 0 L -0.16 0 M 0.16 0 L 1 0 M 0.16 0 A 0.16 0.16 0 1 1 -0.16 0 A 0.16 0.16 0 1 1 0.16 0 Z", "clipHeight": 11.5}}
    }},
   {"data": {"name": "c"}, "mark": {"type": "point", "filled": true, "strokeWidth": 0.9, "size": 18, "opacity": 1},
    "encoding": {
     "x": {"field": "x", "type": "quantitative"},
     "y": {"field": "v", "type": "quantitative"},
     "stroke": {"field": "s", "type": "nominal", "scale": {"domain": ["VGa (epi)", "VO (epi)", "VGa (sub)", "VO (sub)"], "range": ["#4d4d4d", "#ff2a2a", "#1f5fe0", "#2da84a"]}, "legend": {"title": null, "orient": "none", "legendX": 14, "legendY": 51, "symbolSize": 729, "symbolType": "M -1 0 L -0.16 0 M 0.16 0 L 1 0 M 0.16 0 A 0.16 0.16 0 1 1 -0.16 0 A 0.16 0.16 0 1 1 0.16 0 Z", "clipHeight": 11.5}},
     "fill": {"field": "s", "type": "nominal", "scale": {"domain": ["VGa (epi)", "VO (epi)", "VGa (sub)", "VO (sub)"], "range": ["#9a9a9a", "#ff8a8a", "#5d95ff", "#7fd58f"]}, "legend": {"title": null, "orient": "none", "legendX": 14, "legendY": 51, "symbolSize": 729, "symbolType": "M -1 0 L -0.16 0 M 0.16 0 L 1 0 M 0.16 0 A 0.16 0.16 0 1 1 -0.16 0 A 0.16 0.16 0 1 1 0.16 0 Z", "clipHeight": 11.5}}
    }}
  ]
 },
 {
  "width": 169, "height": 137,
  "title": {"text": "(d)"},
  "layer": [
   {"data": {"name": "boundary"}, "mark": {"type": "rule", "strokeDash": [5, 3], "color": "#333333", "strokeWidth": 1.2}, "encoding": {"x": {"field": "x", "type": "quantitative"}}},
   {"data": {"name": "txtD"}, "mark": {"type": "text", "text": "Substrate", "align": "left", "baseline": "middle", "fontSize": 11, "fontWeight": "bold", "font": "Liberation Serif", "color": "black"}, "encoding": {"x": {"field": "x", "type": "quantitative"}, "y": {"field": "y", "type": "quantitative"}}},
   {"data": {"name": "d"}, "mark": {"type": "line", "strokeWidth": 1.5},
    "encoding": {
     "x": {"field": "x", "type": "quantitative", "scale": {"domain": [0, 120], "nice": false}, "axis": {"title": "Depth (μm)", "values": [0, 20, 40, 60, 80, 100, 120], "tickCount": 12, "labelOverlap": false}},
     "y": {"field": "v", "type": "quantitative", "scale": {"type": "log", "domain": [1e15, 8.7e20], "nice": false}, "axis": {"title": "Total Vacancies (cm⁻³)", "values": [1e15, 1e16, 1e17, 1e18, 1e19, 1e20], "labelOverlap": false, "labelExpr": "'10' + (datum.value > 5e19 ? '²⁰' : datum.value > 5e18 ? '¹⁹' : datum.value > 5e17 ? '¹⁸' : datum.value > 5e16 ? '¹⁷' : datum.value > 5e15 ? '¹⁶' : '¹⁵')"}},
     "stroke": {"field": "s", "type": "nominal", "scale": {"domain": ["1 × 10¹⁴ p/cm⁻²", "1 × 10¹⁵ p/cm⁻²", "1 × 10¹⁶ p/cm⁻²"], "range": ["#4d4d4d", "#ff2a2a", "#1f5fe0"]}, "legend": {"title": null, "orient": "none", "legendX": 14, "legendY": 91, "symbolSize": 784, "symbolType": "M -1 0 L -0.16 0 M 0.16 0 L 1 0 M 0.16 0 A 0.16 0.16 0 1 1 -0.16 0 A 0.16 0.16 0 1 1 0.16 0 Z", "clipHeight": 13, "labelFontSize": 10.5}}
    }},
   {"data": {"name": "d"}, "mark": {"type": "point", "filled": true, "strokeWidth": 0.9, "size": 18, "opacity": 1},
    "encoding": {
     "x": {"field": "x", "type": "quantitative"},
     "y": {"field": "v", "type": "quantitative"},
     "stroke": {"field": "s", "type": "nominal", "scale": {"domain": ["1 × 10¹⁴ p/cm⁻²", "1 × 10¹⁵ p/cm⁻²", "1 × 10¹⁶ p/cm⁻²"], "range": ["#4d4d4d", "#ff2a2a", "#1f5fe0"]}, "legend": {"title": null, "orient": "none", "legendX": 14, "legendY": 91, "symbolSize": 784, "symbolType": "M -1 0 L -0.16 0 M 0.16 0 L 1 0 M 0.16 0 A 0.16 0.16 0 1 1 -0.16 0 A 0.16 0.16 0 1 1 0.16 0 Z", "clipHeight": 13, "labelFontSize": 10.5}},
     "fill": {"field": "s", "type": "nominal", "scale": {"domain": ["1 × 10¹⁴ p/cm⁻²", "1 × 10¹⁵ p/cm⁻²", "1 × 10¹⁶ p/cm⁻²"], "range": ["#9a9a9a", "#ff8a8a", "#5d95ff"]}, "legend": {"title": null, "orient": "none", "legendX": 14, "legendY": 91, "symbolSize": 784, "symbolType": "M -1 0 L -0.16 0 M 0.16 0 L 1 0 M 0.16 0 A 0.16 0.16 0 1 1 -0.16 0 A 0.16 0.16 0 1 1 0.16 0 Z", "clipHeight": 13, "labelFontSize": 10.5}}
    }}
  ]
 }
]
}
